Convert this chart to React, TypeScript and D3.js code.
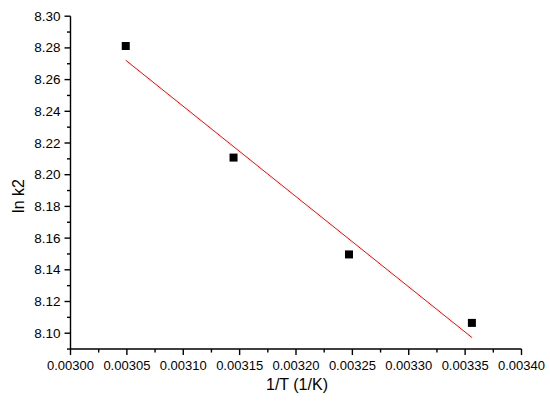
import React from "react";
import * as d3 from "d3";

const xs = [0.003049, 0.0031446, 0.003247, 0.003356];
const ys = [8.2812, 8.2108, 8.1497, 8.1065];
const fitX = [0.003049, 0.003356];
const fitY = [8.2722, 8.0973];
const xTicks = [0.003, 0.00305, 0.0031, 0.00315, 0.0032, 0.00325, 0.0033, 0.00335, 0.0034];
const yTicks = [8.1, 8.12, 8.14, 8.16, 8.18, 8.2, 8.22, 8.24, 8.26, 8.28, 8.3];

export default function App() {
  const W = 550, H = 407;
  const x = d3.scaleLinear().domain([0.003, 0.0034]).range([70.5, 521.5]);
  const y = d3.scaleLinear().domain([8.1, 8.3]).range([333.2, 16.2]);
  const yBottom = y(8.09);
  const xMinor = d3.range(8).map((i) => 0.003 + 0.000025 + i * 0.00005);
  const yMinor = d3.range(11).map((i) => 8.09 + i * 0.02);
  const line = d3.line<number>().x((_, i) => x(fitX[i])).y((d) => y(d));
  const font = "Arial, 'Liberation Sans', sans-serif";
  return (
    <svg width={W} height={H} style={{ position: "absolute", left: 0, top: 0, background: "#fff" }}>
      <g stroke="#000" strokeWidth={1.4} fill="none">
        <line x1={x(0.003)} x2={x(0.0034)} y1={yBottom} y2={yBottom} />
        <line x1={x(0.003)} x2={x(0.003)} y1={y(8.3)} y2={yBottom} />
        {xTicks.map((t) => (
          <line key={"xt" + t} x1={x(t)} x2={x(t)} y1={yBottom} y2={yBottom + 6} />
        ))}
        {xMinor.map((t) => (
          <line key={"xm" + t} x1={x(t)} x2={x(t)} y1={yBottom} y2={yBottom + 3.5} />
        ))}
        {yTicks.map((t) => (
          <line key={"yt" + t} x1={x(0.003)} x2={x(0.003) - 6} y1={y(t)} y2={y(t)} />
        ))}
        {yMinor.map((t) => (
          <line key={"ym" + t} x1={x(0.003)} x2={x(0.003) - 3.5} y1={y(t)} y2={y(t)} />
        ))}
      </g>
      <g fontFamily={font} fontSize={13} fill="#000">
        {xTicks.map((t) => (
          <text key={"xl" + t} x={x(t)} y={yBottom + 21} textAnchor="middle">
            {t.toFixed(5)}
          </text>
        ))}
        {yTicks.map((t) => (
          <text key={"yl" + t} x={x(0.003) - 10} y={y(t) + 4.5} textAnchor="end" fontSize={13.5}>
            {t.toFixed(2)}
          </text>
        ))}
        <text x={297} y={390} textAnchor="middle" fontSize={16}>1/T (1/K)</text>
        <text transform={`translate(24,196) rotate(-90)`} textAnchor="middle" fontSize={16}>ln k2</text>
      </g>
      <path d={line(fitY) || ""} stroke="#ff0000" strokeWidth={1} fill="none" />
      {xs.map((v, i) => (
        <rect key={"p" + i} x={x(v) - 4} y={y(ys[i]) - 4} width={8} height={8} fill="#000" />
      ))}
    </svg>
  );
}
